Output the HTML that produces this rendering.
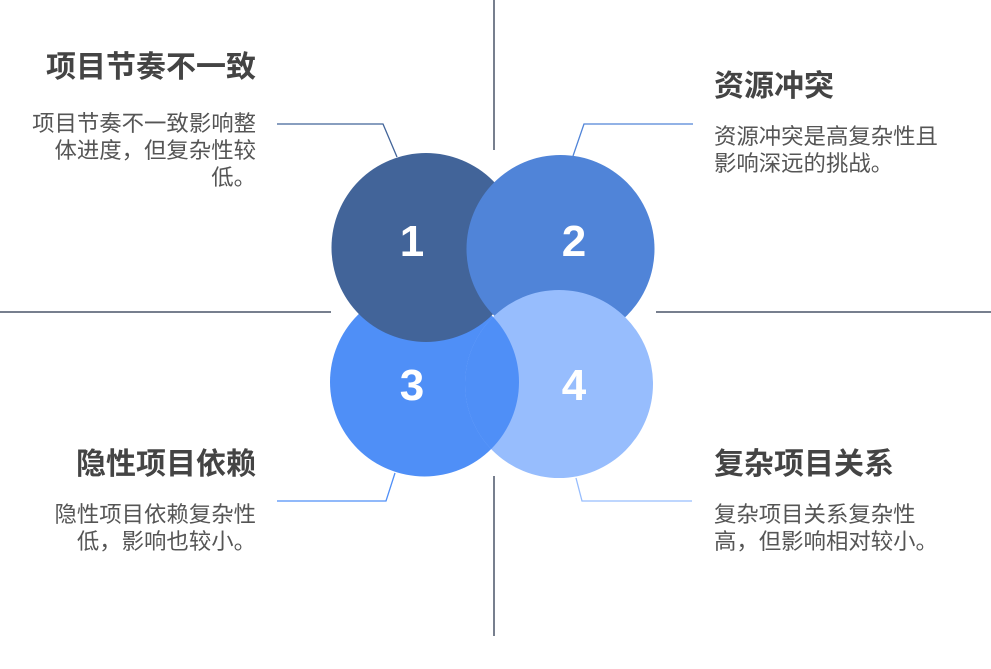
<!DOCTYPE html>
<html><head><meta charset="utf-8"><style>
body{margin:0;width:991px;height:669px;background:#fff;overflow:hidden;position:relative;font-family:"Liberation Sans","Noto Sans CJK SC",sans-serif;color:#444}
.t{position:absolute;font-size:30px;font-weight:bold;line-height:36px;color:#444;white-space:nowrap}
.d{position:absolute;font-size:22.4px;line-height:27px;color:#555;white-space:nowrap}
.r{text-align:right}
</style></head><body>
<svg width="991" height="669" style="position:absolute;left:0;top:0">
<defs><clipPath id="c4"><circle cx="559" cy="384" r="94"/></clipPath></defs>
<g stroke="#4a5568" stroke-width="1.5">
<line x1="0" y1="312" x2="331" y2="312"/><line x1="656" y1="312" x2="991" y2="312"/>
<line x1="494" y1="0" x2="494" y2="150"/><line x1="494" y1="476" x2="494" y2="636"/>
</g>
<g fill="none" stroke-width="1.3">
<polyline points="277,124 383,124 397,157" stroke="#426499"/>
<polyline points="693,124 584,124 573,156" stroke="#5084d8"/>
<polyline points="277,501 386,501 395,473" stroke="#4f8ff7"/>
<polyline points="692,501 582,501 576,478" stroke="#97bdfd"/>
</g>
<circle cx="424.5" cy="382" r="94.5" fill="#4f8ff7"/>
<circle cx="426" cy="247.5" r="94.5" fill="#426499"/>
<circle cx="560.5" cy="249" r="94" fill="#5084d8"/>
<circle cx="559" cy="384" r="94" fill="#97bdfd"/>
<circle cx="424.5" cy="382" r="94.5" fill="#4f8ff7" clip-path="url(#c4)"/>
<g fill="#fff" font-size="44" font-weight="bold" text-anchor="middle" font-family="Liberation Sans,sans-serif">
<text x="412" y="256">1</text><text x="574" y="256">2</text>
<text x="412" y="400">3</text><text x="574" y="400">4</text>
</g>
</svg>
<div class="t r" style="right:735px;top:50px">项目节奏不一致</div>
<div class="d r" style="right:735px;top:110px">项目节奏不一致影响整<br>体进度，但复杂性较<br>低。</div>
<div class="t" style="left:714px;top:69px">资源冲突</div>
<div class="d" style="left:714px;top:123px">资源冲突是高复杂性且<br>影响深远的挑战。</div>
<div class="t r" style="right:735px;top:447px">隐性项目依赖</div>
<div class="d r" style="right:735px;top:501px">隐性项目依赖复杂性<br>低，影响也较小。</div>
<div class="t" style="left:714px;top:447px">复杂项目关系</div>
<div class="d" style="left:714px;top:501px">复杂项目关系复杂性<br>高，但影响相对较小。</div>
</body></html>
